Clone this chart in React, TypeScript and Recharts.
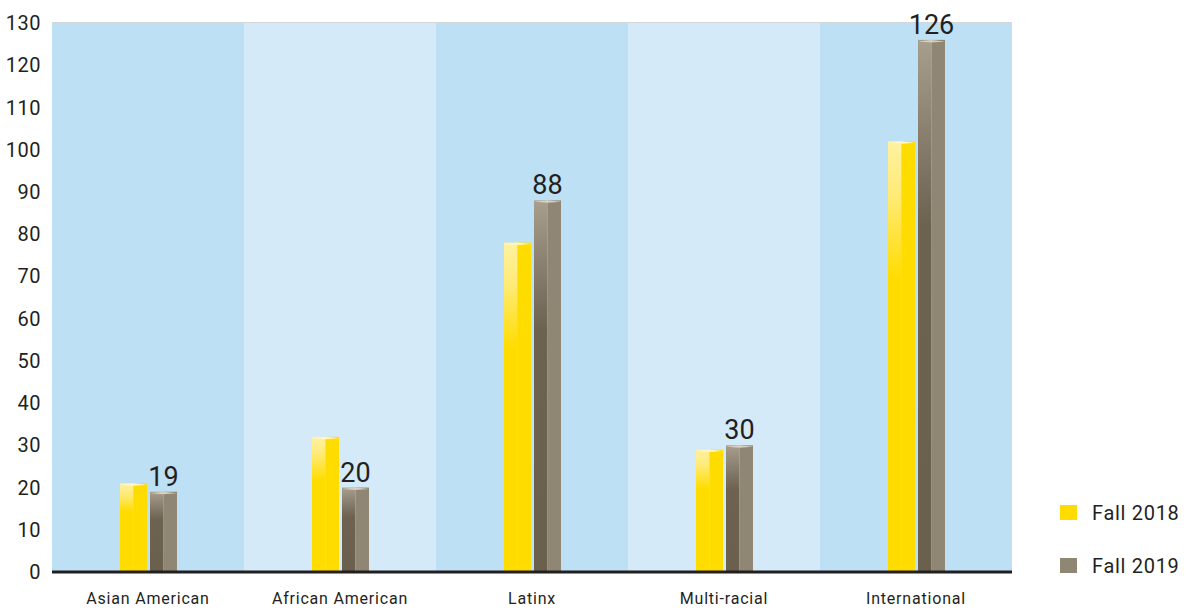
import React from 'react';
import {
  BarChart,
  Bar,
  XAxis,
  YAxis,
  CartesianGrid,
  ReferenceArea,
  LabelList,
  Legend,
} from 'recharts';

const categories = ['Asian American', 'African American', 'Latinx', 'Multi-racial', 'International'];
const fall2018 = [21, 32, 78, 29, 102];
const fall2019 = [19, 20, 88, 30, 126];
const yTicks = [0, 10, 20, 30, 40, 50, 60, 70, 80, 90, 100, 110, 120, 130];
const bandColors = ['#bde0f5', '#d4eaf8', '#bde0f5', '#d4eaf8', '#bde0f5'];

const data = categories.map((name, i) => ({
  name,
  fall2018: fall2018[i],
  fall2019: fall2019[i],
}));

const FONT = 'Roboto, "DejaVu Sans", sans-serif';
const TEXT = '#231f20';

// two-tone prism-ish bar: shaded left face, flat right face, small bevel on top
const makeShape = (leftGrad: string, rightFill: string, topFill: string) => (props: any) => {
  const { x, y, width, height } = props;
  if (!height || height <= 0) return null;
  const half = width / 2;
  return (
    <g>
      <rect x={x} y={y} width={half} height={height} fill={`url(#${leftGrad})`} />
      <rect x={x + half} y={y} width={width - half} height={height} fill={rightFill} />
      <polygon
        points={`${x},${y + 1.5} ${x + half},${y} ${x + width},${y + 1.5} ${x + half},${y + 2.5}`}
        fill={topFill}
      />
    </g>
  );
};

const YellowBar = makeShape('gradYellow', '#ffdc00', '#fff6c4');
const GrayBar = makeShape('gradGray', '#8f8674', '#d6cfc2');

const renderLegend = (props: any) => {
  const { payload } = props;
  return (
    <div style={{ fontFamily: FONT }}>
      {(payload || []).map((entry: any) => (
        <div
          key={entry.value}
          style={{
            display: 'flex',
            alignItems: 'center',
            height: 53,
            color: TEXT,
            fontSize: 20,
            letterSpacing: 0.7,
            whiteSpace: 'nowrap',
          }}
        >
          <span
            style={{
              display: 'inline-block',
              width: 17,
              height: 15,
              background: entry.color,
              marginRight: 15,
            }}
          />
          {entry.value}
        </div>
      ))}
    </div>
  );
};

export default function App() {
  return (
    <div style={{ position: 'absolute', left: 0, top: 0, width: 1188, height: 610, background: '#fff' }}>
      <BarChart
        width={1188}
        height={610}
        data={data}
        margin={{ top: 23, right: 176, bottom: 8, left: 0 }}
        barSize={27}
        barGap={3}
      >
        <defs>
          <linearGradient id="gradYellow" x1="0" y1="0" x2="0" y2="1">
            <stop offset="0%" stopColor="#fff1a0" />
            <stop offset="12%" stopColor="#ffeb7a" />
            <stop offset="32%" stopColor="#ffdc00" />
            <stop offset="100%" stopColor="#ffdc00" />
          </linearGradient>
          <linearGradient id="gradGray" x1="0" y1="0" x2="0" y2="1">
            <stop offset="0%" stopColor="#a79e8e" />
            <stop offset="35%" stopColor="#6d6150" />
            <stop offset="100%" stopColor="#6b5f4e" />
          </linearGradient>
        </defs>
        {categories.map((c, i) => (
          <ReferenceArea
            key={c}
            x1={c}
            x2={c}
            y1={0}
            y2={130}
            fill={bandColors[i]}
            fillOpacity={1}
            stroke="none"
          />
        ))}
        <CartesianGrid vertical={false} stroke="#a9b0b3" strokeWidth={1.2} />
        <XAxis
          dataKey="name"
          height={30}
          axisLine={{ stroke: '#231f20', strokeWidth: 3 }}
          tickLine={false}
          tickMargin={15}
          tick={{ fontSize: 16, fill: TEXT, fontFamily: FONT, letterSpacing: 0.8 }}
        />
        <YAxis
          width={52}
          domain={[0, 130]}
          ticks={yTicks}
          axisLine={false}
          tickLine={false}
          tickMargin={5}
          tick={{ fontSize: 20, fill: TEXT, fontFamily: FONT, letterSpacing: 0.5 }}
        />
        <Legend
          layout="vertical"
          align="center"
          verticalAlign="middle"
          content={renderLegend}
          wrapperStyle={{ left: 1060, top: 486, width: 128 }}
        />
        <Bar dataKey="fall2018" name="Fall 2018" fill="#ffdc00" shape={YellowBar} isAnimationActive={false} />
        <Bar dataKey="fall2019" name="Fall 2019" fill="#8f8674" shape={GrayBar} isAnimationActive={false}>
          <LabelList
            dataKey="fall2019"
            position="top"
            offset={6}
            style={{ fontSize: 27, fill: TEXT, fontFamily: FONT }}
          />
        </Bar>
      </BarChart>
    </div>
  );
}
